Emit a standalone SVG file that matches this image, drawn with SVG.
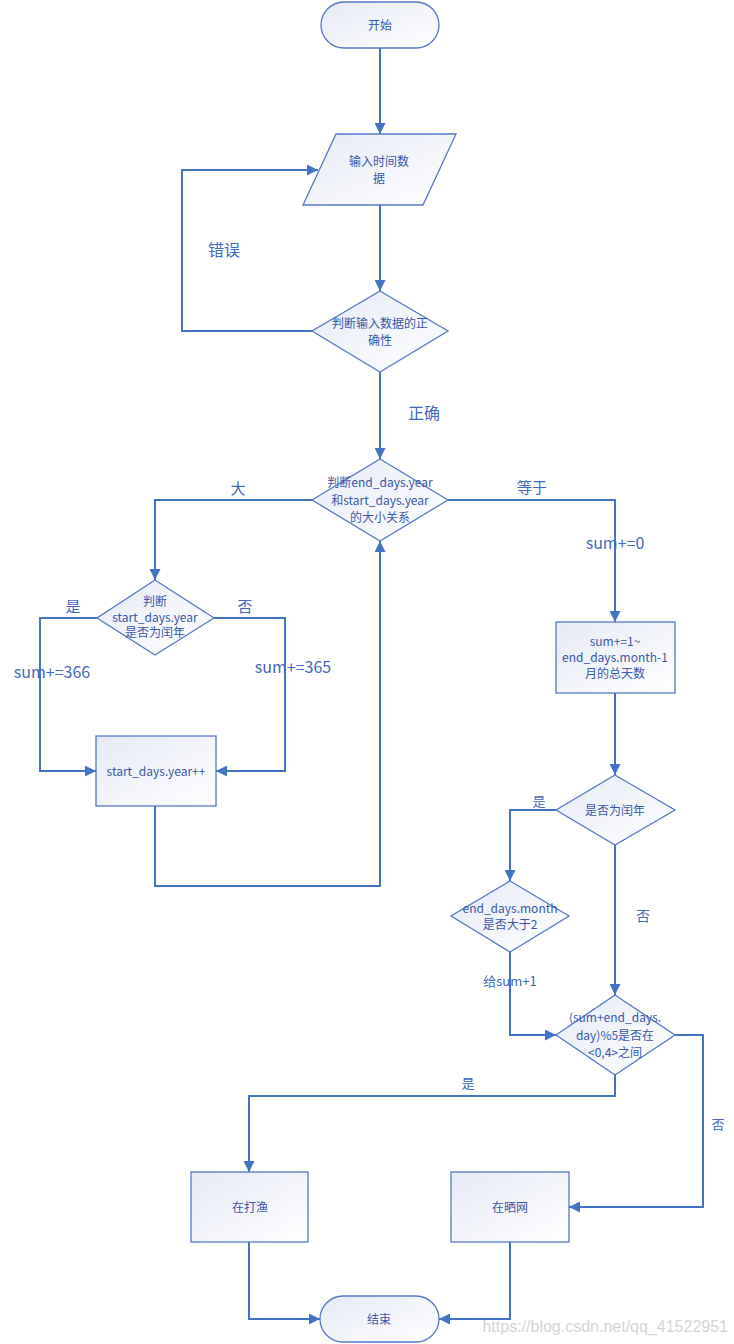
<svg xmlns="http://www.w3.org/2000/svg" width="734" height="1344" viewBox="0 0 734 1344">
<style>
.n{stroke:#5678C4;stroke-width:1.3;fill:url(#g)}
.t{font-family:"Noto Sans CJK SC","Liberation Sans",sans-serif;font-size:12px;fill:#3A57A8;text-anchor:middle;dominant-baseline:central}
.l{font-family:"Noto Sans CJK SC","Liberation Sans",sans-serif;fill:#4468BE;text-anchor:middle;dominant-baseline:central}
.c{fill:none;stroke:#4472C4;stroke-width:2;marker-end:url(#a)}
</style>
<defs>
<linearGradient id="g" x1="0" y1="0" x2="1" y2="1">
<stop offset="0" stop-color="#E6EAF6"/>
<stop offset="1" stop-color="#FFFFFF"/>
</linearGradient>
<marker id="a" viewBox="0 0 10 10" refX="10" refY="5" markerWidth="5.5" markerHeight="5.5" orient="auto" markerUnits="strokeWidth">
<path d="M0,0 L10,5 L0,10 z" fill="#4472C4"/>
</marker>
</defs>
<rect width="734" height="1344" fill="#FFFFFF"/>
<g id="connectors">
<path class="c" d="M380,48 V134"/>
<path class="c" d="M380,205 V291"/>
<path class="c" d="M312,331 H182 V170 H318"/>
<path class="c" d="M380,372 V459"/>
<path class="c" d="M312,500 H155 V580"/>
<path class="c" d="M97,618 H40 V771 H96"/>
<path class="c" d="M214,618 H285 V771 H216"/>
<path class="c" d="M155,806 V886 H380 V541"/>
<path class="c" d="M448,500 H615 V622"/>
<path class="c" d="M615,693 V775"/>
<path class="c" d="M556,810 H510 V881"/>
<path class="c" d="M510,952 V1035 H556"/>
<path class="c" d="M615,845 V995"/>
<path class="c" d="M615,1075 V1096 H249 V1172"/>
<path class="c" d="M675,1035 H703 V1207 H569"/>
<path class="c" d="M249,1242 V1319 H320"/>
<path class="c" d="M510,1242 V1319 H439"/>
</g>
<g id="labels">
<text class="l" x="224" y="249" font-size="16">错误</text>
<text class="l" x="424" y="412" font-size="16">正确</text>
<text class="l" x="238" y="487" font-size="15">大</text>
<text class="l" x="532" y="486" font-size="15">等于</text>
<text class="l" x="615" y="542" font-size="16">sum+=0</text>
<text class="l" x="73" y="605" font-size="15">是</text>
<text class="l" x="245" y="605" font-size="15">否</text>
<text class="l" x="52" y="671" font-size="16">sum+=366</text>
<text class="l" x="293" y="666" font-size="16">sum+=365</text>
<text class="l" x="539" y="800" font-size="13">是</text>
<text class="l" x="643" y="915" font-size="14">否</text>
<text class="l" x="510" y="980" font-size="13">给sum+1</text>
<text class="l" x="468" y="1082" font-size="13">是</text>
<text class="l" x="718" y="1123" font-size="13">否</text>
</g>
<g id="start">
<rect class="n" x="321" y="2" width="118" height="46" rx="23"/>
<text class="t" x="380" y="24">开始</text>
</g>
<g id="input">
<path class="n" d="M336,134 H456 L423,205 H303 Z"/>
<text class="t" x="379" y="160">输入时间数</text>
<text class="t" x="379" y="177">据</text>
</g>
<g id="check">
<path class="n" d="M380,291 L448,331 L380,372 L312,331 Z"/>
<text class="t" x="380" y="322">判断输入数据的正</text>
<text class="t" x="380" y="339">确性</text>
</g>
<g id="compare">
<path class="n" d="M380,459 L448,500 L380,541 L312,500 Z"/>
<text class="t" x="380" y="481" font-size="11.5">判断end_days.year</text>
<text class="t" x="380" y="499" font-size="11.5">和start_days.year</text>
<text class="t" x="380" y="516" font-size="11.5">的大小关系</text>
</g>
<g id="leap1">
<path class="n" d="M155,580 L214,618 L155,655 L97,618 Z"/>
<text class="t" x="155" y="600" font-size="11.5">判断</text>
<text class="t" x="155" y="616" font-size="11.5">start_days.year</text>
<text class="t" x="155" y="631" font-size="11.5">是否为闰年</text>
</g>
<g id="incyear">
<rect class="n" x="96" y="736" width="120" height="70"/>
<text class="t" x="156" y="770" font-size="11.5">start_days.year++</text>
</g>
<g id="summonth">
<rect class="n" x="556" y="622" width="119" height="71"/>
<text class="t" x="615" y="640" font-size="11.5">sum+=1~</text>
<text class="t" x="615" y="656" font-size="11.5">end_days.month-1</text>
<text class="t" x="615" y="672" font-size="11.5">月的总天数</text>
</g>
<g id="leap2">
<path class="n" d="M615,775 L675,810 L615,845 L556,810 Z"/>
<text class="t" x="615" y="809">是否为闰年</text>
</g>
<g id="month2">
<path class="n" d="M510,881 L569,916 L510,952 L451,916 Z"/>
<text class="t" x="510" y="907" font-size="11.5">end_days.month</text>
<text class="t" x="510" y="923" font-size="11.5">是否大于2</text>
</g>
<g id="mod5">
<path class="n" d="M615,995 L675,1035 L615,1075 L556,1035 Z"/>
<text class="t" x="615" y="1016" font-size="11.5">(sum+end_days.</text>
<text class="t" x="615" y="1034" font-size="11.5">day)%5是否在</text>
<text class="t" x="615" y="1051" font-size="11.5">&lt;0,4&gt;之间</text>
</g>
<g id="fish">
<rect class="n" x="191" y="1172" width="117" height="70"/>
<text class="t" x="250" y="1206">在打渔</text>
</g>
<g id="net">
<rect class="n" x="451" y="1172" width="118" height="70"/>
<text class="t" x="510" y="1206">在晒网</text>
</g>
<g id="end">
<rect class="n" x="320" y="1296" width="119" height="46" rx="23"/>
<text class="t" x="379" y="1318">结束</text>
</g>
<text x="728" y="1326" font-family="Liberation Sans,Arial,sans-serif" font-size="16" fill="#D4D4D4" text-anchor="end" dominant-baseline="central">https://blog.csdn.net/qq_41522951</text>
</svg>
